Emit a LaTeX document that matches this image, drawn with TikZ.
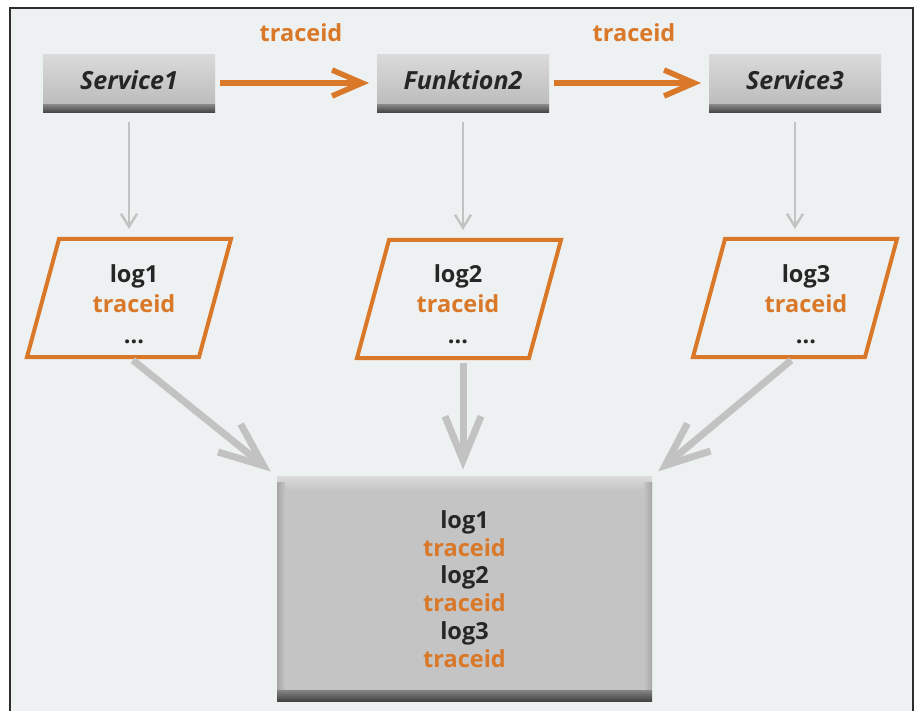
\documentclass[tikz,border=0pt]{standalone}
\usepackage{fontspec}
\setmainfont{Open Sans}
\usetikzlibrary{arrows.meta,calc}

\definecolor{panel}{RGB}{238,241,241}
\definecolor{frameline}{RGB}{45,45,45}
\definecolor{accent}{RGB}{217,120,40}
\definecolor{ink}{RGB}{38,38,38}
\definecolor{faceTop}{RGB}{218,218,218}
\definecolor{faceBot}{RGB}{188,188,188}
\definecolor{bandTop}{RGB}{130,130,130}
\definecolor{bandBot}{RGB}{64,64,64}
\definecolor{aggFace}{RGB}{196,196,196}
\definecolor{connGray}{RGB}{194,194,194}

\tikzset{
  svcbox/.style={rectangle, minimum width=172pt, minimum height=50pt,
    inner sep=0pt, outer sep=0pt, top color=faceTop, bottom color=faceBot,
    draw=none, text=ink, font=\fontsize{25}{30}\selectfont\bfseries\itshape},
  logframe/.style={rectangle, minimum width=204pt, minimum height=118pt,
    inner sep=0pt, outer sep=0pt, draw=none},
  logtext/.style={align=center, text=ink, inner sep=0pt,
    font=\fontsize{23.5}{30.5}\selectfont\bfseries},
  aggbox/.style={rectangle, minimum width=375pt, minimum height=225pt,
    inner sep=0pt, outer sep=0pt, fill=aggFace, draw=none, align=center,
    text=ink, font=\fontsize{23.5}{27.7}\selectfont\bfseries},
  parline/.style={draw=accent, line width=4pt, line join=miter},
  flowarrow/.style={draw=accent, line width=5.5pt,
    -{Straight Barb[length=30pt,width=26pt]}},
  flowlabel/.style={text=accent, font=\fontsize{23.5}{28}\selectfont\bfseries},
  logarrow/.style={draw=connGray, line width=2.4pt,
    -{Straight Barb[length=13pt,width=16pt]}},
  mergearrow/.style={draw=connGray, line width=7pt,
    -{Straight Barb[length=44pt,width=36pt]}},
}

\newcommand{\tid}{\textcolor{accent}{traceid}}

\begin{document}
\begin{tikzpicture}[x=1pt,y=-1pt]
  \useasboundingbox (0,0) rectangle (920,711);
  \fill[white] (0,0) rectangle (920,711);
  % panel with its frame (open at the bottom)
  \fill[panel] (10,8) rectangle (913,711);
  \draw[frameline, line width=2pt] (10,711) -- (10,8) -- (913,8) -- (913,711);

  % services
  \node[svcbox] (s1) at (129,80) {Service1};
  \node[svcbox] (f2) at (463,80) {Funktion2};
  \node[svcbox] (s3) at (795,80) {Service3};
  \foreach \n in {s1,f2,s3}{
    \shade[top color=bandTop, bottom color=bandBot]
      (\n.south west) rectangle ($(\n.south east)+(0,8)$);
  }

  % log records
  \node[logframe] (p1) at (129,298) {};
  \node[logframe] (p2) at (459,299) {};
  \node[logframe] (p3) at (795,298) {};
  \foreach \n in {p1,p2,p3}{
    \draw[parline] ($(\n.north west)+(32,0)$) -- (\n.north east)
      -- ($(\n.south east)-(32,0)$) -- (\n.south west) -- cycle;
  }
  \node[logtext] (t1) at (134,304) {log1\\\tid\\...};
  \node[logtext] (t2) at (458,304) {log2\\\tid\\...};
  \node[logtext] (t3) at (806,304) {log3\\\tid\\...};

  % collected logs
  \node[aggbox] (agg) at (464.5,589)
    {log1\\\tid\\log2\\\tid\\log3\\\tid};
  \shade[top color=faceTop, bottom color=aggFace]
    (agg.north west) rectangle ($(agg.north east)+(0,14)$);
  \shade[left color=black!35, right color=aggFace]
    ($(agg.north west)+(0,6)$) rectangle ($(agg.south west)+(8,-12)$);
  \shade[left color=aggFace, right color=black!35]
    ($(agg.north east)+(-8,6)$) rectangle ($(agg.south east)+(0,-12)$);
  \shade[top color=bandTop, bottom color=bandBot]
    ($(agg.south west)+(0,-11)$) rectangle (agg.south east);

  % trace id handed from service to service
  \draw[flowarrow, shorten <=5pt, shorten >=8pt]
    ([yshift=-3pt]s1.east) -- ([yshift=-3pt]f2.west)
    node[flowlabel, midway, yshift=50pt, xshift=5pt] {traceid};
  \draw[flowarrow, shorten <=5pt, shorten >=8pt]
    ([yshift=-3pt]f2.east) -- ([yshift=-3pt]s3.west)
    node[flowlabel, midway, yshift=50pt, xshift=5pt] {traceid};

  % each service writes its log
  \draw[logarrow, shorten <=17pt, shorten >=10pt] (s1.south) -- (p1.north);
  \draw[logarrow, shorten <=17pt, shorten >=10pt] (f2.south) -- (f2.south |- p2.north);
  \draw[logarrow, shorten <=17pt, shorten >=10pt] (s3.south) -- (p3.north);

  % logs merged into one store
  \draw[mergearrow, shorten <=5pt, shorten >=8pt] (p1.south) -- (agg.north west);
  \draw[mergearrow, shorten <=5pt, shorten >=7pt] (f2.south |- p2.south) -- (f2.south |- agg.north);
  \draw[mergearrow, shorten <=5pt, shorten >=8pt] (p3.south) -- (agg.north east);
\end{tikzpicture}
\end{document}
